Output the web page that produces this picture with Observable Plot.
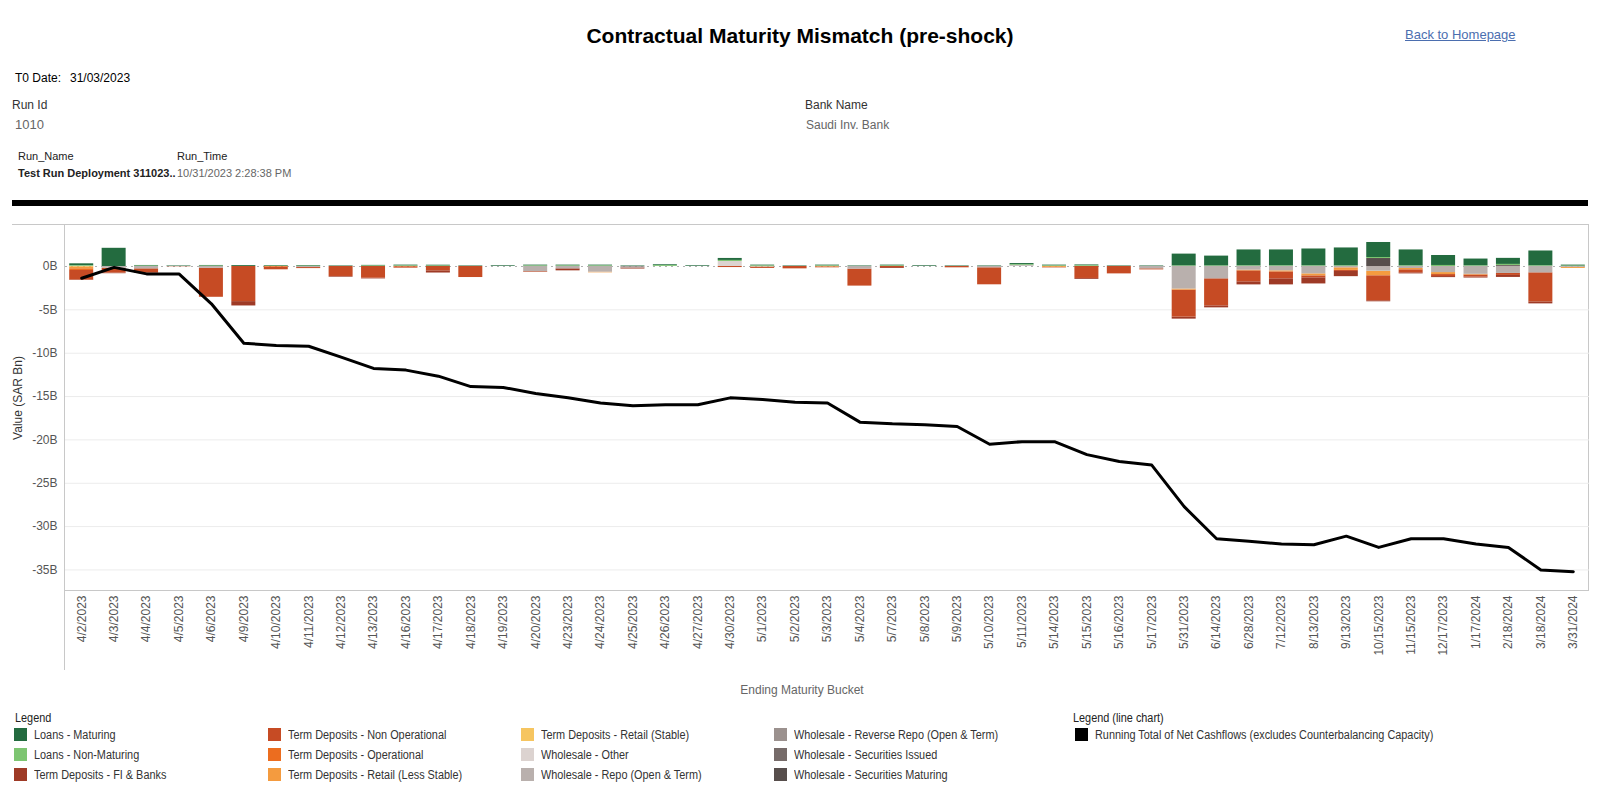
<!DOCTYPE html>
<html><head><meta charset="utf-8">
<script src="https://cdn.jsdelivr.net/npm/d3@7"></script>
<script src="https://cdn.jsdelivr.net/npm/@observablehq/plot@0.6"></script>
<style>
body{margin:0;width:1600px;height:800px;position:relative;background:#fff;font-family:"Liberation Sans",Arial,sans-serif;overflow:hidden}
.t{position:absolute;white-space:nowrap;line-height:16px}
.ln{position:absolute;background:#c8c8c8}
.narrow{transform:scaleX(0.87);transform-origin:left center}
</style></head><body>
<div class="t" style="left:0;width:1600px;text-align:center;top:24px;line-height:24px;font-size:21px;font-weight:bold;color:#000">Contractual Maturity Mismatch (pre-shock)</div>
<div class="t" style="left:1405px;top:27px;font-size:13px;color:#4b6eaf;text-decoration:underline">Back to Homepage</div>
<div class="t" style="left:15px;top:70px;font-size:12px;color:#000">T0 Date:</div>
<div class="t" style="left:70px;top:70px;font-size:12px;color:#000">31/03/2023</div>
<div class="t" style="left:12px;top:97px;font-size:12px;color:#333">Run Id</div>
<div class="t" style="left:15px;top:117px;font-size:13px;color:#666">1010</div>
<div class="t" style="left:805px;top:97px;font-size:12px;color:#333">Bank Name</div>
<div class="t" style="left:806px;top:117px;font-size:12px;color:#666">Saudi Inv. Bank</div>
<div class="t" style="left:18px;top:148px;font-size:11px;color:#222">Run_Name</div>
<div class="t" style="left:177px;top:148px;font-size:11px;color:#222">Run_Time</div>
<div class="t" style="left:18px;top:165px;font-size:11px;color:#222;font-weight:bold">Test Run Deployment 311023..</div>
<div class="t" style="left:177px;top:165px;font-size:11px;color:#666">10/31/2023 2:28:38 PM</div>
<div style="position:absolute;left:12px;top:200px;width:1576px;height:6px;background:#000"></div>
<div class="ln" style="left:12px;top:224px;width:1576px;height:1px"></div>
<div class="ln" style="left:1588px;top:224px;width:1px;height:366px"></div>
<div class="ln" style="left:64px;top:225px;width:1px;height:445px"></div>
<div class="ln" style="left:64px;top:590px;width:1525px;height:1px"></div>
<div class="t" style="left:18px;top:398px;font-size:12px;color:#333;transform:translate(-50%,-50%) rotate(-90deg);transform-origin:center">Value (SAR Bn)</div>
<div class="t" style="left:0;width:1604px;text-align:center;top:682px;font-size:12px;color:#666">Ending Maturity Bucket</div>
<div id="chart" style="position:absolute;left:0;top:225px"></div>
<div id="legend"></div>
<script>
const dates = ["4/2/2023","4/3/2023","4/4/2023","4/5/2023","4/6/2023","4/9/2023","4/10/2023","4/11/2023","4/12/2023","4/13/2023","4/16/2023","4/17/2023","4/18/2023","4/19/2023","4/20/2023","4/23/2023","4/24/2023","4/25/2023","4/26/2023","4/27/2023","4/30/2023","5/1/2023","5/2/2023","5/3/2023","5/4/2023","5/7/2023","5/8/2023","5/9/2023","5/10/2023","5/11/2023","5/14/2023","5/15/2023","5/16/2023","5/17/2023","5/31/2023","6/14/2023","6/28/2023","7/12/2023","8/13/2023","9/13/2023","10/15/2023","11/15/2023","12/17/2023","1/17/2024","2/18/2024","3/18/2024","3/31/2024"];

const categories = ["Loans - Maturing","Loans - Non-Maturing","Term Deposits - FI & Banks","Term Deposits - Non Operational","Term Deposits - Operational","Term Deposits - Retail (Less Stable)","Term Deposits - Retail (Stable)","Wholesale - Other","Wholesale - Repo (Open & Term)","Wholesale - Reverse Repo (Open & Term)","Wholesale - Securities Issued","Wholesale - Securities Maturing"];
const colors = ["#236b3f","#7dc571","#9e3a26","#c64b24","#ec6d1f","#f49b3f","#f6c560","#dcd3d0","#b9b0ad","#9b918e","#766b69","#574e4c"];

const loansMaturing = [
 0.23, 2.1, 0.08, 0.06, 0.08, 0.1, 0.08, 0.08, 0.06, 0.08,
 0.1, 0.1, 0.06, 0.08, 0.1, 0.1, 0.1, 0.06, 0.1, 0.08,
 0.23, 0.1, 0.06, 0.1, 0.06, 0.1, 0.08, 0.06, 0.06, 0.15,
 0.1, 0.1, 0.06, 0.06, 1.38, 1.15, 1.85, 1.85, 1.96, 2.08,
 1.73, 1.85, 1.15, 0.8, 0.7, 1.73, 0.12];
const loansNonMaturing = [
 0.08, 0, 0.04, 0, 0.04, 0, 0.03, 0.03, 0, 0.05,
 0.06, 0.05, 0, 0, 0.06, 0.06, 0.06, 0, 0.1, 0,
 0.12, 0.06, 0, 0.06, 0, 0.06, 0, 0, 0, 0.08,
 0.06, 0.08, 0, 0, 0.05, 0.05, 0.06, 0.06, 0.06, 0.06,
 0.12, 0.06, 0.12, 0.06, 0.12, 0.06, 0.04];
const tdFiBanks = [
 -0.05, -0.08, 0, 0, 0, -0.5, 0, 0, -0.08, -0.08,
 0, -0.25, 0, 0, 0, -0.23, 0, -0.12, 0, 0,
 0, 0, 0, 0, 0, -0.1, 0, 0, 0, 0,
 0, -0.1, 0, 0, -0.23, -0.23, -0.35, -0.7, -0.7, -0.6,
 -0.12, -0.12, -0.12, -0.12, -0.23, -0.23, 0];
const tdNonOperational = [
 -1.1, -0.55, -0.5, -0.03, -3.35, -4.05, -0.3, -0.12, -1.15, -1.35,
 -0.15, -0.5, -1.27, 0, -0.08, 0, 0, 0, 0, 0,
 -0.12, -0.12, -0.27, -0.1, -1.96, -0.12, 0, -0.15, -1.96, 0,
 -0.06, -1.38, -0.85, -0.12, -3.12, -3.12, -1.27, -0.8, -0.23, -0.12,
 -2.88, -0.35, -0.23, -0.23, -0.23, -3.35, 0];
const tdOperational = [
 -0.2, 0, 0, 0, 0, 0, -0.08, 0, 0, 0,
 -0.04, 0, 0, 0, 0, 0, 0, 0, 0, 0,
 0, 0, 0, 0, 0, 0, 0, 0, 0, 0,
 0, 0, 0, 0, 0, 0, 0, 0, 0, 0,
 0, 0, 0, 0, 0, 0, 0];
const tdRetailLessStable = [
 -0.22, 0, 0, 0, 0, 0, 0, 0, 0, 0,
 0, 0, 0, 0, 0, 0, -0.08, 0, 0, 0,
 0, -0.05, 0, -0.05, 0, 0, 0, 0, 0, 0,
 -0.1, 0, 0, 0, -0.12, 0, -0.08, -0.12, -0.23, -0.3,
 -0.5, -0.15, -0.23, -0.08, 0, 0, -0.12];
const tdRetailStable = [
 -0.04, 0, 0, 0, 0, 0, 0, 0, 0, 0,
 0, 0, 0, 0, 0, 0, 0, 0, 0, 0,
 0, 0, 0, 0, 0, 0, 0, 0, 0, 0,
 0, 0, 0, 0, 0, 0, 0, 0, 0, 0,
 -0.03, 0, 0, 0, 0, 0, 0];
const wholesaleOther = [
 0, 0, 0, 0, 0, 0, 0, 0, 0, 0,
 0, 0, 0, 0, 0, 0, 0, 0, 0, 0,
 0.58, 0, 0, 0, 0, 0, 0, 0, 0, 0.06,
 0, 0, 0, 0, 0, 0, 0, 0, 0, 0,
 0, 0, 0, 0, 0, 0, 0];
const wholesaleRepo = [
 0, -0.2, -0.27, 0, -0.2, 0, 0, -0.12, 0, 0,
 0, 0, 0, 0, -0.6, -0.27, -0.65, -0.12, 0, 0,
 0, -0.05, 0, 0, -0.3, 0, 0, 0, -0.15, 0,
 0, 0, 0, -0.27, -2.6, -1.42, -0.42, -0.5, -0.85, -0.15,
 -0.54, -0.23, -0.7, -0.9, -0.8, -0.73, -0.1];
const wholesaleReverseRepo = [
 0, 0, 0, 0, 0, 0, 0, 0, 0, 0,
 0, 0, 0, 0, 0, 0, 0, 0, 0, 0,
 0, 0, 0, 0, 0, 0, 0, 0, 0, 0.05,
 0, 0, 0, 0, 0, 0, 0, 0, 0, 0,
 0, 0, 0, 0, 0, 0, 0];
const securitiesIssued = [
 0, 0, 0, 0, 0, 0, 0, 0, 0, 0,
 0, 0, 0, 0, 0, 0, 0, -0.05, 0, 0,
 0, 0, 0, 0, 0, 0, 0, 0, 0, 0,
 0, 0, 0, 0, 0, 0, 0, 0, 0, 0,
 0, 0, 0, 0, 0.12, 0, 0];
const securitiesMaturing = [
 0, 0, 0, 0, 0, 0, 0, 0, 0, 0,
 0, 0, 0, 0, 0, 0, 0, 0, 0, 0,
 0, 0, 0, 0, 0, 0, 0, 0, 0, 0,
 0, 0, 0, 0, 0, 0, 0, 0, 0, 0,
 0.92, 0, 0, 0, 0, 0, 0];

const runningTotal = [
 -1.35, -0.1, -0.85, -0.85, -4.3, -8.85, -9.1, -9.2, -10.45, -11.75,
 -11.95, -12.65, -13.85, -13.95, -14.65, -15.15, -15.75, -16.05, -15.95, -15.95,
 -15.15, -15.35, -15.65, -15.75, -17.95, -18.15, -18.25, -18.45, -20.5, -20.2,
 -20.2, -21.7, -22.5, -22.9, -27.7, -31.4, -31.7, -32.0, -32.1, -31.1,
 -32.4, -31.4, -31.4, -32.0, -32.4, -35.0, -35.2];

const yTicks = [0, -5, -10, -15, -20, -25, -30, -35];
const lineLabel = "Running Total of Net Cashflows (excludes Counterbalancing Capacity)";

const series = [loansMaturing, loansNonMaturing, tdFiBanks, tdNonOperational, tdOperational, tdRetailLessStable, tdRetailStable, wholesaleOther, wholesaleRepo, wholesaleReverseRepo, securitiesIssued, securitiesMaturing];
const rows = [];
series.forEach((arr, i) => arr.forEach((v, j) => { if (v !== 0) rows.push({date: dates[j], cat: categories[i], value: v}); }));
const lineRows = dates.map((d, j) => ({date: d, total: runningTotal[j]}));
const stackOrder = categories.slice().reverse();

const chart = Plot.plot({
  width: 1600, height: 445,
  marginLeft: 65, marginRight: 11, marginTop: 0, marginBottom: 80,
  style: {fontFamily: "Liberation Sans, Arial, sans-serif", fontSize: "12px", color: "#555", background: "transparent", overflow: "visible"},
  x: {domain: dates, paddingInner: 0.26, paddingOuter: 0.13, round: false, label: null, tickSize: 0, tickPadding: 5, tickRotate: -90},
  y: {domain: [-37.37, 4.73], ticks: yTicks, tickFormat: d => `${d}B`, label: null, tickSize: 0, tickPadding: 8},
  color: {domain: categories, range: colors},
  marks: [
    Plot.ruleY(yTicks.filter(d => d !== 0), {stroke: "#ececec"}),
    Plot.ruleY([0], {stroke: "#b0b0b0", strokeDasharray: "2,4"}),
    Plot.barY(rows, Plot.stackY({x: "date", y: "value", fill: "cat", order: stackOrder})),
    Plot.line(lineRows, {x: "date", y: "total", stroke: "#000", strokeWidth: 3, strokeLinejoin: "round"})
  ]
});
document.getElementById("chart").appendChild(chart);

// legend
const leg = document.getElementById("legend");
const colX = [14, 268, 521, 774];
const rowY = [735, 755, 775];
let html = `<div class="t narrow" style="left:15px;top:${718-8}px;font-size:12.5px;color:#222">Legend</div>`;
categories.forEach((c, i) => {
  const x = colX[Math.floor(i / 3)], y = rowY[i % 3];
  html += `<div style="position:absolute;left:${x}px;top:${y-7}px;width:13px;height:13px;background:${colors[i]}"></div>`;
  html += `<div class="t narrow" style="left:${x+20}px;top:${y-8}px;font-size:12.5px;color:#333">${c.replace(/&/g,"&amp;")}</div>`;
});
html += `<div class="t narrow" style="left:1073px;top:${718-8}px;font-size:12.5px;color:#222">Legend (line chart)</div>`;
html += `<div style="position:absolute;left:1075px;top:${735-7}px;width:13px;height:13px;background:#000"></div>`;
html += `<div class="t narrow" style="left:1095px;top:${735-8}px;font-size:12.5px;color:#333">${lineLabel}</div>`;
leg.innerHTML = html;
</script>
</body></html>
